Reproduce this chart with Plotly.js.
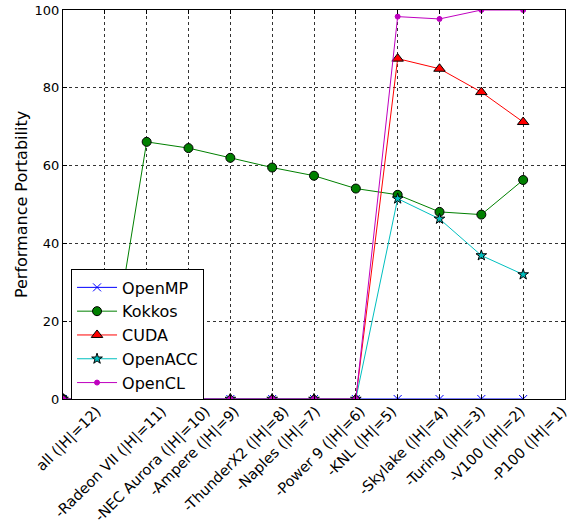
<!DOCTYPE html>
<html>
<head>
<meta charset="utf-8">
<script src="https://cdn.plot.ly/plotly-3.0.1.min.js"></script>
<style>html,body{margin:0;padding:0;background:#fff;}</style>
</head>
<body>
<div id="chart" style="width:575px;height:531px;"></div>
<script>
const categories = ["all (|H|=12)", "-Radeon VII (|H|=11)", "-NEC Aurora (|H|=10)", "-Ampere (|H|=9)",
  "-ThunderX2 (|H|=8)", "-Naples (|H|=7)", "-Power 9 (|H|=6)", "-KNL (|H|=5)",
  "-Skylake (|H|=4)", "-Turing (|H|=3)", "-V100 (|H|=2)", "-P100 (|H|=1)"];
const openmp  = [0, 0, 0, 0, 0, 0, 0, 0, 0, 0, 0, 0];
const kokkos  = [0, 0, 66.1, 64.5, 62.0, 59.5, 57.4, 54.1, 52.5, 48.1, 47.4, 56.3];
const cuda    = [0, 0, 0, 0, 0, 0, 0, 0, 87.5, 84.9, 78.9, 71.2];
const openacc = [0, 0, 0, 0, 0, 0, 0, 0, 51.5, 46.3, 36.9, 32.0];
const opencl  = [0, 0, 0, 0, 0, 0, 0, 0, 98.3, 97.7, 100, 100];
const yTicks = [0, 20, 40, 60, 80, 100];

const idx = categories.map((_, i) => i);
const FONT = "DejaVu Sans, sans-serif";
const XFS = 14.5;
const M = {l: 63, r: 10, t: 10, b: 132};
const X_RANGE = [0, 12];
const PX_PER_UNIT = (575 - M.l - M.r) / (X_RANGE[1] - X_RANGE[0]);

function tr(name, y, color, symbol, size, fill, edge) {
  return {
    type: "scatter", mode: "lines+markers", name: name, legendgroup: name,
    x: idx, y: y,
    line: {color: color, width: 1},
    marker: {symbol: symbol, size: size, color: fill, line: {color: edge, width: 1}},
    cliponaxis: true
  };
}

const data = [
  tr("OpenMP", openmp, "#0000ff", "x-thin", 8, "#0000ff", "#0000ff"),
  tr("Kokkos", kokkos, "#008000", "circle", 9, "#008000", "#000"),
  tr("CUDA", cuda, "#ff0000", "triangle-up", 10, "#ff0000", "#000"),
  tr("OpenACC", openacc, "#00bfbf", "star", 8, "#00bfbf", "#000"),
  tr("OpenCL", opencl, "#bf00bf", "circle", 5, "#bf00bf", "#bf00bf")
];

// Category labels are rotated 45° and centred under each tick (matplotlib style).
// Plotly anchors the END of a rotated tick label at its tick, so the labels sit on
// an overlaid label-only axis whose ticks are offset by half of each label's span.
const ctx = document.createElement("canvas").getContext("2d");
ctx.font = XFS + "px 'DejaVu Sans'";
const labelVals = categories.map((c, i) => {
  const w = ctx.measureText(c).width;
  const half = 0.7071 * (w + 1.16 * XFS) / 2;
  return i + (half - 2) / PX_PER_UNIT;
});

const layout = {
  width: 575, height: 531,
  margin: M,
  paper_bgcolor: "#fff", plot_bgcolor: "#fff",
  font: {family: FONT, size: 13, color: "#000"},
  showlegend: true,
  legend: {x: 0.016, y: 0.333, xanchor: "left", yanchor: "top",
           bgcolor: "#fff", bordercolor: "#000", borderwidth: 1, itemwidth: 40,
           font: {family: FONT, size: 16}, traceorder: "grouped", tracegroupgap: 0},
  xaxis: {range: X_RANGE, tickmode: "array", tickvals: idx, showticklabels: false,
          showgrid: true, gridcolor: "#333", griddash: "dot", gridwidth: 1,
          zeroline: false, showline: true, linecolor: "#000", linewidth: 1, mirror: "ticks",
          ticks: "inside", ticklen: 4, tickcolor: "#000"},
  xaxis2: {range: X_RANGE, overlaying: "x", anchor: "y", side: "bottom",
           tickmode: "array", tickvals: labelVals, ticktext: categories, tickangle: -45,
           showgrid: false, zeroline: false, showline: false, ticks: "",
           tickfont: {family: FONT, size: XFS, color: "#000"}},
  yaxis: {range: [0, 100], tickmode: "array", tickvals: yTicks, ticktext: yTicks.map(String),
          showgrid: true, gridcolor: "#333", griddash: "dot", gridwidth: 1,
          zeroline: false, showline: true, linecolor: "#000", linewidth: 1, mirror: "ticks",
          ticks: "inside", ticklen: 4, tickcolor: "#000",
          tickfont: {family: FONT, size: 13},
          title: {text: "Performance Portability", font: {family: FONT, size: 16}, standoff: 2}}
};

// an invisible helper trace so the label axis is drawn
data.push({type: "scatter", mode: "markers", x: [X_RANGE[0]], y: [0], xaxis: "x2", yaxis: "y",
           marker: {opacity: 0}, showlegend: false, hoverinfo: "skip"});

Plotly.newPlot("chart", data, layout, {displayModeBar: false, staticPlot: true});
</script>
</body>
</html>
